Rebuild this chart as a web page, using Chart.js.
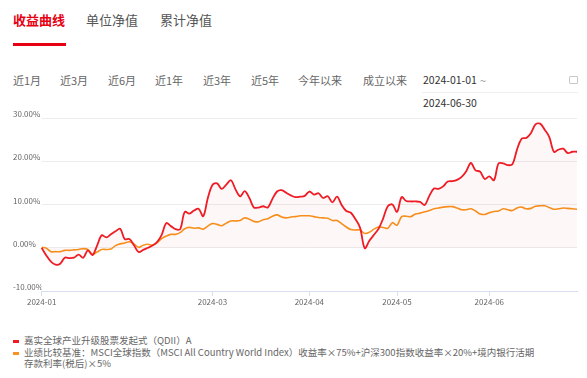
<!DOCTYPE html>
<html>
<head>
<meta charset="utf-8">
<script src="https://cdn.jsdelivr.net/npm/chart.js@4.4.1/dist/chart.umd.min.js"></script>
<style>
    html, body { margin: 0; padding: 0; background: #fff; }
    body { width: 587px; height: 378px; position: relative; overflow: hidden;
           font-family: 'Noto Sans CJK SC', 'Noto Sans', sans-serif; color: #666; }
    .abs { position: absolute; white-space: nowrap; }
    .tab { font-size: 13px; line-height: 16px; top: 12px; color: #555; }
    .tab.active { color: #e60012; font-weight: bold; }
    .bar { left: 13px; top: 43px; width: 53px; height: 3px; background: #e60012; position: absolute; }
    .per { font-size: 11px; line-height: 14px; top: 73px; color: #666; }
    .date { font-size: 10.5px; line-height: 14px; color: #333; }
    .hline { position: absolute; height: 1px; background: #eee; }
    .cal { position: absolute; left: 569px; top: 76px; width: 7px; height: 6px; border: 1px solid #c8c8c8; border-radius: 1px; }
    #wrap { position: absolute; left: 0; top: 105px; width: 587px; height: 205px; }
    #legend { position: absolute; left: 0; top: 335px; width: 542px; font-size: 9.5px; line-height: 11.5px; color: #666; }
    .item { position: relative; padding-left: 24px; white-space: normal; }
    .mark { position: absolute; left: 13px; top: 5px; width: 6px; height: 3px; }
</style>
</head>
<body>
<div class="abs tab active" style="left:13px">收益曲线</div>
<div class="bar"></div>
<div class="abs tab" style="left:86px">单位净值</div>
<div class="abs tab" style="left:160px">累计净值</div>

<div class="abs per" style="left:13px">近1月</div>
<div class="abs per" style="left:60px">近3月</div>
<div class="abs per" style="left:108px">近6月</div>
<div class="abs per" style="left:155px">近1年</div>
<div class="abs per" style="left:203px">近3年</div>
<div class="abs per" style="left:251px">近5年</div>
<div class="abs per" style="left:298px">今年以来</div>
<div class="abs per" style="left:363px">成立以来</div>
<div class="abs date" style="left:423px; top:73px">2024-01-01</div>
<div class="abs per" style="left:480px; top:73px; color:#999">~</div>
<div class="cal"></div>
<div class="hline" style="left:422px; top:92px; width:156px"></div>
<div class="abs date" style="left:423px; top:96px">2024-06-30</div>

<div id="wrap"><canvas id="chartRendimiento"></canvas></div>
<div id="legend"></div>

<script>
// dias con valor por mes
const diasEne = [2,3,4,5,8,9,10,11,12,15,16,17,18,19,22,23,24,25,26,29,30,31];
const diasFeb = [1,2,5,6,7,8,19,20,21,22,23,26,27,28,29];
const diasMar = [1,4,5,6,7,8,11,12,13,14,15,18,19,20,21,22,25,26,27,28,29];
const diasAbr = [2,3,8,9,10,11,12,15,16,17,18,19,22,23,24,25,26,28,29];
const diasMay = [6,7,8,9,10,13,14,15,16,17,20,21,22,23,24,27,28,29,30,31];
const diasJun = [3,4,5,6,7,10,11,12,13,14,17,18,19,20,21,24,25,26,27,28];

const nombresSeries = [
    '嘉实全球产业升级股票发起式（QDII）A',
    '业绩比较基准：MSCI全球指数（MSCI All Country World Index）收益率×75%+沪深300指数收益率×20%+境内银行活期存款利率(税后)×5%'
];

const valoresFondo = [
    0, -1.8, -3.2, -3.9, -3.7, -2.3, -2.4, -2.3, -1.6, -2.3,
    -0.6, -1.7, 0.5, 2.9, 2.4, 3.1, 3.8, 4.4, 2.0, 2.0,
    0.6, -1.0, -0.5, 0.0, 0.5, 1.3, 3.0, 5.7, 5.0, 4.3,
    4.3, 8.3, 7.9, 8.6, 9.0, 7.3, 11.5, 14.5, 14.9, 13.6,
    14.6, 15.6, 13.5, 11.9, 13.1, 11.5, 9.3, 9.3, 9.6, 9.3,
    11.3, 13.0, 13.3, 12.7, 12.1, 11.7, 11.8, 12.0, 13.0, 12.3,
    12.6, 11.5, 11.9, 10.5, 11.8, 9.9, 8.5, 8.1, 6.6, 4.6,
    -0.1, 1.6, 3.0, 4.4, 6.8, 9.6, 10.0, 8.3, 11.7, 10.8,
    10.7, 10.7, 10.6, 9.9, 12.0, 13.7, 13.6, 14.2, 15.3, 15.4,
    15.7, 16.4, 17.7, 19.6, 17.9, 17.6, 15.9, 16.5, 15.6, 19.5,
    19.5, 19.1, 19.3, 22.7, 25.2, 25.4, 26.5, 28.5, 28.7, 27.3,
    25.6, 22.2, 22.7, 22.9, 21.9, 22.2, 22.2
];

const valoresReferencia = [
    0.1, -0.1, -0.9, -0.9, -0.9, -0.6, -0.6, -0.5, -0.4, -0.2,
    -0.4, -1.5, -1.0, -0.4, -0.4, -0.3, 0.5, 0.9, 1.1, 1.4,
    0.9, 0.1, 0.6, 0.8, 0.6, 1.2, 2.1, 2.7, 3.1, 3.1,
    3.5, 4.4, 4.7, 4.5, 4.6, 4.3, 5.0, 5.6, 5.4, 5.1,
    5.7, 6.2, 6.2, 6.3, 6.9, 6.6, 6.1, 6.0, 6.5, 6.7,
    7.3, 7.6, 7.1, 6.9, 7.1, 7.2, 7.4, 7.4, 7.4, 7.2,
    7.0, 6.9, 6.8, 6.3, 6.3, 5.6, 4.8, 4.2, 4.1, 4.1,
    3.3, 3.6, 4.3, 4.8, 4.7, 4.5, 5.8, 5.2, 7.2, 7.3,
    7.2, 7.8, 8.0, 8.3, 8.6, 9.0, 9.2, 9.4, 9.5, 9.5,
    9.2, 8.8, 8.8, 9.0, 8.5, 7.8, 7.7, 8.1, 8.4, 8.5,
    9.0, 8.8, 8.6, 9.2, 9.4, 9.0, 9.1, 9.6, 9.7, 9.7,
    9.3, 8.9, 9.0, 9.2, 9.1, 9.0, 8.9
];

const mesesEtiqueta = ['2024-01', '2024-03', '2024-04', '2024-05', '2024-06'];
const ticksY = [-10, 0, 10, 20, 30];

const colores = ['#ee1c25', '#f7931e'];

function pad2(n) { return n < 10 ? '0' + n : '' + n; }

const fechas = [];
[diasEne, diasFeb, diasMar, diasAbr, diasMay, diasJun].forEach(function (dias, m) {
    dias.forEach(function (d) { fechas.push('2024-' + pad2(m + 1) + '-' + pad2(d)); });
});

// indice del primer dia de cada mes que lleva etiqueta
const indicesEtiqueta = mesesEtiqueta.map(function (mes) {
    return fechas.findIndex(function (f) { return f.indexOf(mes) === 0; });
});

function generarGraficaRendimiento() {
    const ctx = document.getElementById('chartRendimiento').getContext('2d');
    Chart.defaults.font.family = "'Noto Sans CJK SC', 'Noto Sans', sans-serif";

    window.graficaRendimiento = new Chart(ctx, {
        type: 'line',
        data: {
            labels: fechas,
            datasets: [{
                label: nombresSeries[0],
                data: valoresFondo,
                borderColor: colores[0],
                backgroundColor: 'rgba(238, 28, 37, 0.035)',
                borderWidth: 1.8,
                fill: 'origin',
                pointRadius: 0,
                tension: 0.35
            }, {
                label: nombresSeries[1],
                data: valoresReferencia,
                borderColor: colores[1],
                borderWidth: 1.6,
                fill: false,
                pointRadius: 0,
                tension: 0.35
            }]
        },
        options: {
            responsive: true,
            maintainAspectRatio: false,
            animation: false,
            layout: { padding: { left: 13, right: 10, top: 13, bottom: 0 } },
            scales: {
                x: {
                    type: 'category',
                    offset: false,
                    afterBuildTicks: function (scale) {
                        scale.ticks = indicesEtiqueta.map(function (i) { return { value: i }; });
                    },
                    afterFit: function (scale) {
                        scale.height = 19;
                        scale.paddingLeft = 0;
                        scale.paddingRight = 0;
                    },
                    ticks: {
                        autoSkip: false,
                        maxRotation: 0,
                        color: '#666',
                        font: { size: 8 },
                        padding: 1,
                        callback: function (value) {
                            return this.getLabelForValue(value).slice(0, 7);
                        }
                    },
                    grid: {
                        drawOnChartArea: false,
                        drawTicks: true,
                        tickLength: 5,
                        color: '#d6deef'
                    },
                    border: { color: '#d6deef', width: 1 }
                },
                y: {
                    min: -10,
                    max: 30,
                    afterBuildTicks: function (scale) {
                        scale.ticks = ticksY.map(function (v) { return { value: v }; });
                    },
                    afterFit: function (scale) {
                        scale.width = 28.7;
                    },
                    ticks: {
                        crossAlign: 'far',
                        labelOffset: -4,
                        padding: 0,
                        color: '#666',
                        font: { size: 8 },
                        callback: function (value) {
                            return value.toFixed(2) + '%';
                        }
                    },
                    grid: {
                        drawTicks: false,
                        color: '#ececec',
                        lineWidth: 1
                    },
                    border: { display: false }
                }
            },
            plugins: {
                legend: { display: false },
                tooltip: { enabled: false }
            }
        }
    });

    const leyenda = document.getElementById('legend');
    nombresSeries.forEach(function (nombre, i) {
        const item = document.createElement('div');
        item.className = 'item';
        item.innerHTML = '<span class="mark" style="background:' + colores[i] + '"></span>' + nombre;
        leyenda.appendChild(item);
    });
}

generarGraficaRendimiento();
</script>
</body>
</html>
